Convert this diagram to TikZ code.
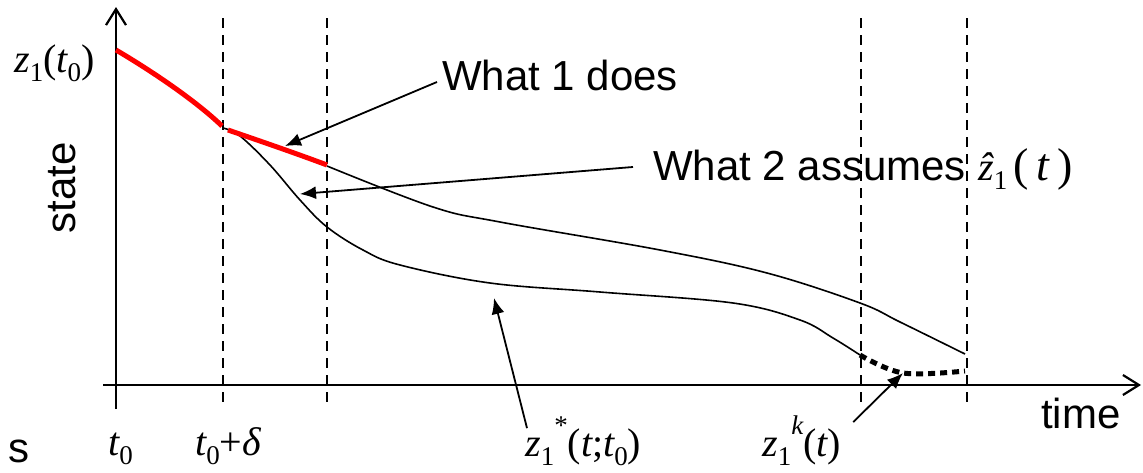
\documentclass[tikz,border=0pt]{standalone}
\usepackage{fontspec}
\setmainfont{Liberation Sans}
\newfontfamily\tnr{Liberation Serif}
\usetikzlibrary{arrows.meta}
\newcommand{\mi}[1]{{\tnr\itshape #1}}
\newcommand{\lsub}[1]{\raisebox{-0.24em}{\fontsize{27}{27}\selectfont\tnr #1}}
\newcommand{\lsup}[1]{\raisebox{0.55em}{\fontsize{27}{27}\selectfont\tnr #1}}
\begin{document}
\begin{tikzpicture}[x=1pt,y=-1pt,
  axis/.style={line width=2.2pt,-{Straight Barb[length=16pt,width=20pt,line width=2.2pt]}},
  vdash/.style={line width=2.2pt,dash pattern=on 10pt off 7pt},
  redline/.style={line width=5pt,red,line join=round},
  thin curve/.style={line width=1.6pt},
  dotted curve/.style={line width=5pt,dash pattern=on 7pt off 5pt},
  pointer/.style={line width=1.8pt,-{Latex[length=16pt,width=13pt]}},
  sanslabel/.style={inner sep=0pt,font=\fontsize{42}{48}\selectfont},
  mathlabel/.style={inner sep=0pt,font=\fontsize{40}{46}\selectfont\tnr}]
\useasboundingbox (0,0) rectangle (1143,472);
\fill[white] (0,0) rectangle (1143,472);

% axes
\coordinate (xs) at (103,385);
\coordinate (xe) at (1141,385);
\coordinate (ys) at (116,409);
\coordinate (ye) at (116,7);
\draw[axis] (xs) -- (xe);
\draw[axis] (ys) -- (ye);

% dashed verticals
\foreach \x/\n in {223/a,327/b,861/c,967/d}{
  \coordinate (top\n) at (\x,18);
  \coordinate (bot\n) at (\x,405);
  \draw[vdash] (top\n) -- (bot\n);
}

% upper thin curve (what 2 assumes)
\draw[thin curve] plot[smooth,tension=0.6] coordinates {(327,166) (433,207) (500,222) (660,250) (767,273) (860,303) (900,322) (965,354)};
% lower thin curve z1*
\draw[thin curve] plot[smooth,tension=0.6] coordinates {(223,128) (240,136) (270,165) (300,200) (327,227) (363,250) (400,265) (490,283) (600,292) (733,303) (800,320) (833,338) (860,355)};
% dotted thick z1^k
\draw[dotted curve] plot[smooth,tension=0.6] coordinates {(860,355) (903,373) (965,371)};
% red curves
\draw[redline] (116,50) .. controls (150,70) and (195,100) .. (222,126);
\draw[redline] (228,130) .. controls (260,141) and (295,153) .. (327,165);

% labels
\node[sanslabel,anchor=base west] (w1) at (442,90) {What 1 does};
\node[sanslabel,anchor=base west] (w2) at (653,180) {What 2 assumes};
\node[mathlabel,anchor=base west] (zhat) at (978,180) {\mi{\^{z}}\lsub{1}\,\fontsize{46}{46}\selectfont(\,\mi{t}\,)};
\node[sanslabel,rotate=90] (state) at (62,188) {state};
\node[sanslabel,anchor=base west] (s) at (8,462) {s};
\node[sanslabel,anchor=base west] (time) at (1041,428) {time};
\node[mathlabel,anchor=base west] (z0) at (14,72) {\mi{z}\lsub{1}(\mi{t}\lsub{0})};
\node[mathlabel,anchor=base west] (t0) at (108,455) {\mi{t}\lsub{0}};
\node[mathlabel,anchor=base west] (t0d) at (195,455) {\mi{t}\lsub{0}+\mi{δ}};
\node[mathlabel,anchor=base west] (zs) at (525,456) {\mi{z}\lsub{1}\lsup{*}(\mi{t};\mi{t}\lsub{0})};
\node[mathlabel,anchor=base west] (zk) at (762,456) {\mi{z}\lsub{1}\lsup{\itshape k}(\mi{t})};

% pointer tips
\coordinate (p1) at (285,146);
\coordinate (p2) at (300,194);
\coordinate (p3) at (494,298);
\coordinate (p4) at (903,373);
\draw[pointer] ([xshift=-5pt,yshift=-7pt]w1.west) -- (p1);
\draw[pointer] ([xshift=-20pt,yshift=-2pt]w2.west) -- (p2);
\draw[pointer] ([xshift=2pt,yshift=-12pt]zs.north west) -- (p3);
\draw[pointer] ([xshift=12pt,yshift=-7pt]zk.north east) -- (p4);
\end{tikzpicture}
\end{document}
